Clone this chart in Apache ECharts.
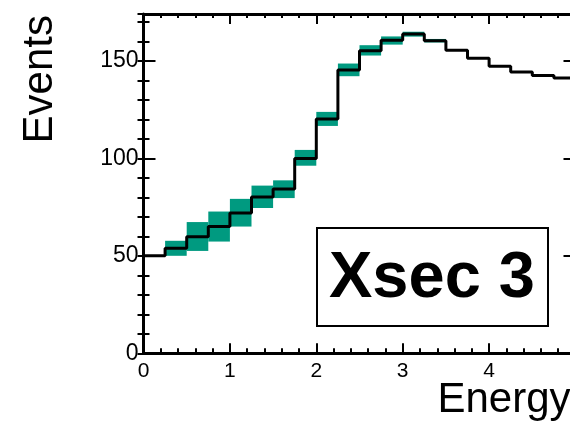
<!DOCTYPE html>
<html><head><meta charset="utf-8">
<script src="https://cdn.jsdelivr.net/npm/echarts@6/dist/echarts.min.js"></script>
<style>html,body{margin:0;padding:0;background:#fff}#c{width:570px;height:425px}</style>
</head><body><div id="c"></div>
<script>
// Histogram bins (Energy)
const binLow  = [0, 0.25, 0.5, 0.75, 1, 1.25, 1.5, 1.75, 2, 2.25, 2.5, 2.75, 3, 3.25, 3.5, 3.75, 4, 4.25, 4.5, 4.75];
const binHigh = [0.25, 0.5, 0.75, 1, 1.25, 1.5, 1.75, 2, 2.25, 2.5, 2.75, 3, 3.25, 3.5, 3.75, 4, 4.25, 4.5, 4.75, 5];
// Events per bin (black step line)
const events  = [50.0, 53.9, 59.8, 65.0, 71.9, 80.1, 84.2, 99.9, 120.2, 145.3, 155.2, 160.5, 163.7, 160.3, 155.4, 151.3, 147.2, 144.3, 142.4, 141.2];
// Uncertainty band (green boxes)
const bandLow  = [50.0, 50.0, 52.5, 57.3, 65.0, 74.5, 79.6, 96.2, 116.6, 142.1, 152.7, 158.3, 162.4, 159.4, 155.4, 151.3, 147.2, 144.3, 142.4, 141.2];
const bandHigh = [50.0, 57.7, 67.3, 72.7, 79.2, 86.0, 88.7, 104.3, 123.8, 148.6, 158.0, 162.5, 164.9, 161.2, 155.4, 151.3, 147.2, 144.3, 142.4, 141.2];
const xTickValues = [0, 1, 2, 3, 4, 5];
const yTickValues = [0, 50, 100, 150];

const FONT = 'Liberation Sans, Arial, Helvetica, sans-serif';
const GREEN = '#009a80';
const BLACK = '#000';

const lineData = binLow.map((x, i) => [x, events[i]]);
lineData.push([binHigh[binHigh.length - 1], events[events.length - 1]]);

const bandData = [];
binLow.forEach((x, i) => {
  if (bandHigh[i] > bandLow[i]) bandData.push([x, binHigh[i], bandLow[i], bandHigh[i]]);
});

const X_MIN = xTickValues[0], X_MAX = xTickValues[xTickValues.length - 1];
const Y_MAX = 174;

function baseAxis(extra) {
  return Object.assign({
    type: 'value',
    splitLine: { show: false },
    axisLine: { show: true, onZero: false, lineStyle: { color: BLACK, width: 3 } },
  }, extra);
}

const chart = echarts.init(document.getElementById('c'), null, { renderer: 'canvas' });
chart.setOption({
  animation: false,
  backgroundColor: '#fff',
  grid: { left: 143.5, top: 14, width: 432, height: 339.3, containLabel: false, outerBoundsMode: 'none' },
  xAxis: [
    baseAxis({
      min: X_MIN, max: X_MAX, interval: 1, position: 'bottom',
      axisTick: { inside: true, length: 10, lineStyle: { color: BLACK, width: 2 } },
      minorTick: { show: true, splitNumber: 5, length: 5, lineStyle: { color: BLACK, width: 2 } },
      axisLabel: { fontSize: 21, color: BLACK, fontFamily: FONT, margin: 7 },
      name: 'Energy', nameLocation: 'end', nameGap: -5, nameMoveOverlap: false,
      nameTextStyle: { fontSize: 42, color: BLACK, fontFamily: FONT, align: 'right', verticalAlign: 'top', padding: [26, 0, 0, 0] }
    }),
    baseAxis({
      min: X_MIN, max: X_MAX, interval: 1, position: 'top',
      axisTick: { inside: true, length: 10, lineStyle: { color: BLACK, width: 2 } },
      minorTick: { show: true, splitNumber: 5, length: 4, lineStyle: { color: BLACK, width: 2 } },
      axisLabel: { show: false }
    })
  ],
  yAxis: [
    baseAxis({
      min: 0, max: Y_MAX, interval: 50, position: 'left',
      axisTick: { inside: true, length: 12, lineStyle: { color: BLACK, width: 2 } },
      axisLabel: { fontSize: 23, color: BLACK, fontFamily: FONT, margin: 5, showMaxLabel: false },
      name: 'Events', nameLocation: 'end', nameRotate: 90, nameGap: -1, nameMoveOverlap: false,
      nameTextStyle: { fontSize: 42, color: BLACK, fontFamily: FONT, align: 'right', verticalAlign: 'bottom', padding: [0, 0, 82, 0] }
    }),
    baseAxis({
      min: 0, max: Y_MAX, interval: 10, position: 'left',
      axisLine: { show: false },
      axisTick: { inside: true, length: 6, lineStyle: { color: BLACK, width: 2 } },
      axisLabel: { show: false }
    }),
    baseAxis({
      min: 0, max: Y_MAX, interval: 50, position: 'right',
      axisTick: { inside: true, length: 12, lineStyle: { color: BLACK, width: 2 } },
      axisLabel: { show: false }
    }),
    baseAxis({
      min: 0, max: Y_MAX, interval: 10, position: 'right',
      axisLine: { show: false },
      axisTick: { inside: true, length: 6, lineStyle: { color: BLACK, width: 2 } },
      axisLabel: { show: false }
    })
  ],
  series: [
    {
      type: 'custom', name: 'Uncertainty', xAxisIndex: 0, yAxisIndex: 0, z: 2,
      data: bandData,
      encode: { x: [0, 1], y: [2, 3] },
      renderItem: function (params, api) {
        const p0 = api.coord([api.value(0), api.value(3)]);
        const p1 = api.coord([api.value(1), api.value(2)]);
        return { type: 'rect', shape: { x: p0[0], y: p0[1], width: p1[0] - p0[0], height: p1[1] - p0[1] }, style: { fill: GREEN } };
      }
    },
    {
      type: 'line', name: 'Events', xAxisIndex: 0, yAxisIndex: 0, z: 3,
      step: 'end', symbol: 'none', data: lineData,
      lineStyle: { color: BLACK, width: 3 }
    }
  ],
  graphic: [
    { type: 'rect', z: 10, shape: { x: 317, y: 228, width: 231, height: 98 }, style: { fill: '#fff', stroke: BLACK, lineWidth: 2 } },
    { type: 'text', z: 11, x: 432, y: 279, style: { text: 'Xsec 3', font: 'bold 65px ' + FONT, fill: BLACK, align: 'center', verticalAlign: 'middle' } }
  ]
});
</script></body></html>
